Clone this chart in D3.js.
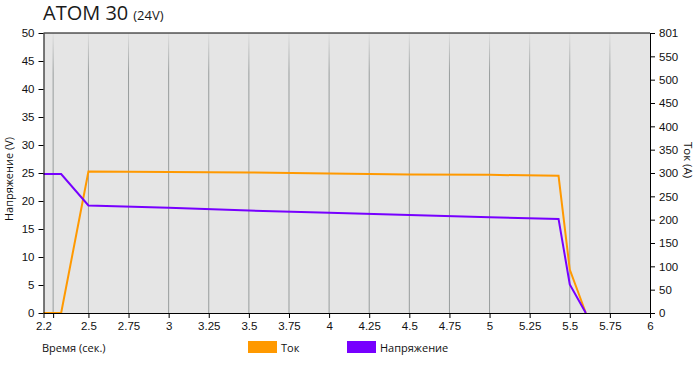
<!DOCTYPE html>
<html>
<head>
<meta charset="utf-8">
<script src="https://cdn.jsdelivr.net/npm/d3@7"></script>
<style>
  body { margin: 0; background: #fff; }
  svg { font-family: "Open Sans", sans-serif; }
  .axis text { font-size: 11.5px; fill: #111; }
  .axis path, .axis line { stroke: #000; }
</style>
</head>
<body>
<svg id="svg" width="696" height="376"></svg>
<script>
// time (s) and readings
const time    = [2.22, 2.33, 2.5, 3.0, 3.5, 4.0, 4.5, 5.0, 5.43, 5.5, 5.6];
const current = [0, 0, 303, 302, 301, 299, 297, 296, 294, 93, 0];
const voltage = [24.8, 24.8, 19.2, 18.8, 18.3, 17.9, 17.5, 17.1, 16.8, 5.1, 0];

const xTicks = [2.22, 2.28, 2.5, 2.75, 3, 3.25, 3.5, 3.75, 4, 4.25, 4.5, 4.75, 5, 5.25, 5.5, 5.75, 6];
const xLabels = ['2.2', '', '2.5', '2.75', '3', '3.25', '3.5', '3.75', '4', '4.25', '4.5', '4.75', '5', '5.25', '5.5', '5.75', '6'];
const vTicks = [0, 5, 10, 15, 20, 25, 30, 35, 40, 45, 50];
const aTicks = [0, 50, 100, 150, 200, 250, 300, 350, 400, 450, 500, 550, 600];
const aLabels = ['0', '50', '100', '150', '200', '250', '300', '350', '400', '450', '500', '550', '801'];

const series = [
  { name: 'Ток', color: '#ff9900', values: current, axis: 'a' },
  { name: 'Напряжение', color: '#7700ff', values: voltage, axis: 'v' }
];

const svg = d3.select('#svg');
const m = { top: 33, right: 46, bottom: 63, left: 43.5 };
const width = 696, height = 376;
const iw = width - m.left - m.right, ih = height - m.top - m.bottom;

const x = d3.scaleLinear().domain([2.22, 6]).range([m.left, m.left + iw]);
const yV = d3.scaleLinear().domain([0, 50]).range([m.top + ih, m.top]);
const yA = d3.scaleLinear().domain([0, 600]).range([m.top + ih, m.top]);

// title
const title = svg.append('text').attr('x', 43).attr('y', 20).attr('fill', '#1a1a1a');
title.append('tspan').attr('font-size', 20).text('ATOM 30');
title.append('tspan').attr('font-size', 13).attr('dx', 5).text('(24V)');

// plot background
svg.append('rect').attr('x', m.left).attr('y', m.top).attr('width', iw).attr('height', ih).attr('fill', '#e5e5e5');

// grid, fading toward the top
const grad = svg.append('defs').append('linearGradient').attr('id', 'gridFade')
  .attr('gradientUnits', 'userSpaceOnUse').attr('x1', 0).attr('x2', 0).attr('y1', m.top).attr('y2', m.top + 40);
grad.append('stop').attr('offset', 0).attr('stop-color', '#e0e0e0');
grad.append('stop').attr('offset', 1).attr('stop-color', '#979c9c');

svg.append('g').selectAll('line').data(xTicks.slice(1, -1)).join('line')
  .attr('x1', d => x(d)).attr('x2', d => x(d))
  .attr('y1', m.top).attr('y2', m.top + ih)
  .attr('stroke', 'url(#gridFade)').attr('stroke-width', 1);

// lines
const line = s => d3.line()
  .x((d, i) => x(time[i]))
  .y(d => s.axis === 'a' ? yA(d) : yV(d));

series.forEach(s => {
  svg.append('path').datum(s.values)
    .attr('fill', 'none').attr('stroke', s.color).attr('stroke-width', 2)
    .attr('stroke-linejoin', 'miter')
    .attr('d', line(s));
});

// frame top
svg.append('line').attr('x1', m.left).attr('x2', m.left + iw).attr('y1', m.top).attr('y2', m.top).attr('stroke', '#000');

// axes
svg.append('g').attr('class', 'axis').attr('transform', `translate(0,${m.top + ih})`)
  .call(d3.axisBottom(x).tickValues(xTicks).tickFormat((d, i) => xLabels[i]).tickSize(5).tickSizeOuter(0).tickPadding(4));
svg.append('g').attr('class', 'axis').attr('transform', `translate(${m.left},0)`)
  .call(d3.axisLeft(yV).tickValues(vTicks).tickSize(5).tickSizeOuter(0).tickPadding(4));
svg.append('g').attr('class', 'axis').attr('transform', `translate(${m.left + iw},0)`)
  .call(d3.axisRight(yA).tickValues(aTicks).tickFormat((d, i) => aLabels[i]).tickSize(5).tickSizeOuter(0).tickPadding(4));

// axis titles
svg.append('text').attr('transform', `translate(12.5,${m.top + 146}) rotate(-90)`)
  .attr('text-anchor', 'middle').attr('font-size', 11).attr('fill', '#111').text('Напряжение (V)');
svg.append('text').attr('transform', `translate(684,${m.top + 127}) rotate(90)`)
  .attr('text-anchor', 'middle').attr('font-size', 11.5).attr('fill', '#111').text('Ток (A)');
svg.append('text').attr('x', 42).attr('y', 352).attr('font-size', 11).attr('fill', '#111').text('Время (сек.)');

// legend
const leg = svg.append('g').selectAll('g').data(series).join('g')
  .attr('transform', (d, i) => `translate(${248 + i * 99},341)`);
leg.append('rect').attr('width', 29).attr('height', 12).attr('fill', d => d.color);
leg.append('text').attr('x', 33).attr('y', 10.5).attr('font-size', 11).attr('fill', '#111').text(d => d.name);
</script>
</body>
</html>
